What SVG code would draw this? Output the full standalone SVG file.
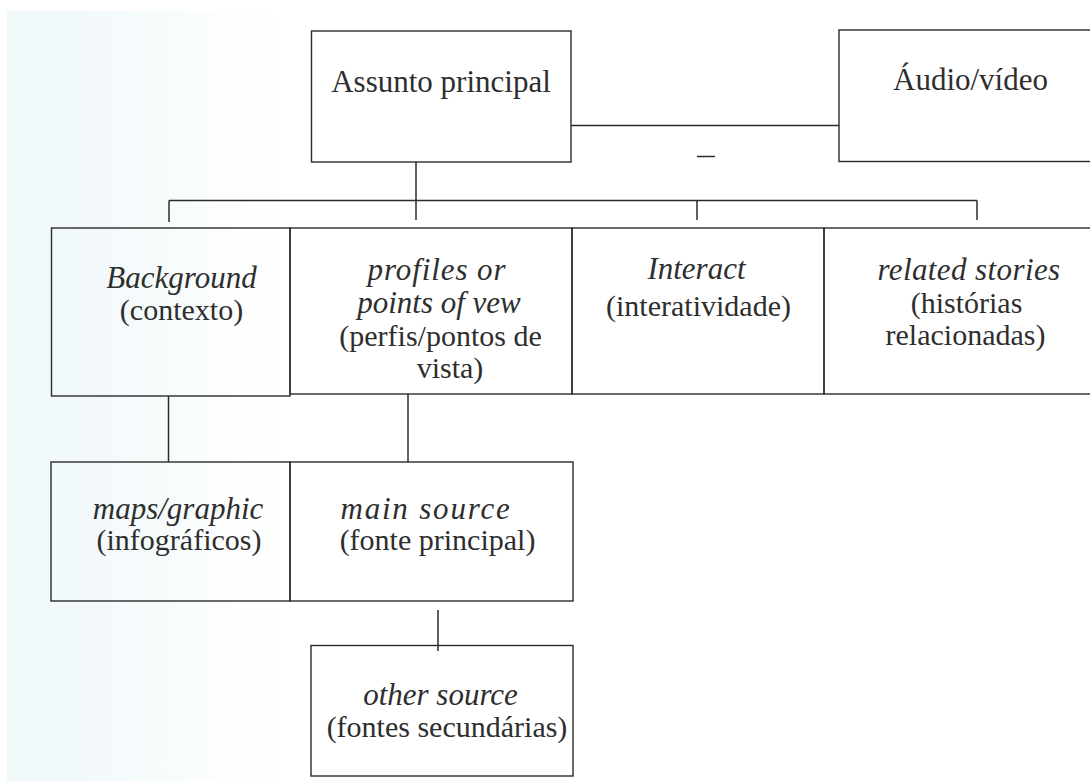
<svg xmlns="http://www.w3.org/2000/svg" width="1090" height="781" viewBox="0 0 1090 781">
  <defs>
    <linearGradient id="tint" x1="0" y1="0" x2="1" y2="0">
      <stop offset="0" stop-color="#f0f8fa"/>
      <stop offset="0.5" stop-color="#f6fbfc"/>
      <stop offset="1" stop-color="#ffffff" stop-opacity="0"/>
    </linearGradient>
    <style>
      .box { fill: none; stroke: #2b2b2b; stroke-width: 1.4; }
      .ln { fill: none; stroke: #2b2b2b; stroke-width: 1.5; }
      .t { font-family: "Liberation Serif", "Times New Roman", serif; font-size: 30px; fill: #2e2e2e; text-anchor: middle; }
      .h { font-size: 31px; }
      .i { font-style: italic; font-size: 31px; }
    </style>
  </defs>
  <rect x="0" y="0" width="1090" height="781" fill="#ffffff"/>
  <rect x="7" y="11" width="300" height="770" fill="url(#tint)"/>

  <g id="connectors">
    <line class="ln" x1="571" y1="125.5" x2="839" y2="125.5"/>
    <line class="ln" x1="416" y1="162" x2="416" y2="220"/>
    <line class="ln" x1="169" y1="200.5" x2="977" y2="200.5"/>
    <line class="ln" x1="169" y1="200.5" x2="169" y2="222"/>
    <line class="ln" x1="697" y1="200.5" x2="697" y2="220"/>
    <line class="ln" x1="977" y1="200.5" x2="977" y2="220"/>
    <line class="ln" x1="168.5" y1="396" x2="168.5" y2="462"/>
    <line class="ln" x1="408" y1="394" x2="408" y2="462"/>
    <line class="ln" x1="438" y1="610" x2="438" y2="651"/>
    <line class="ln" x1="697" y1="156.5" x2="715" y2="156.5"/>
  </g>

  <g id="assunto">
    <rect class="box" x="311.5" y="31" width="259.5" height="131"/>
    <text class="t h" x="441" y="92">Assunto principal</text>
  </g>
  <g id="audio">
    <rect class="box" x="839" y="30" width="260" height="131.5"/>
    <text class="t h" x="970.5" y="90">Áudio/vídeo</text>
  </g>

  <g id="background">
    <rect class="box" x="51.5" y="228" width="238.5" height="168"/>
    <text class="t i" x="181.5" y="288">Background</text>
    <text class="t" x="181.5" y="320">(contexto)</text>
  </g>
  <g id="profiles">
    <rect class="box" x="290" y="228" width="282" height="166"/>
    <text class="t i" x="437" y="280" letter-spacing="0.9">profiles or</text>
    <text class="t i" x="439" y="313">points of vew</text>
    <text class="t" x="440.5" y="346">(perfis/pontos de</text>
    <text class="t" x="450" y="378">vista)</text>
  </g>
  <g id="interact">
    <rect class="box" x="572" y="228" width="252" height="166"/>
    <text class="t i" x="696.5" y="279">Interact</text>
    <text class="t" x="698.5" y="316">(interatividade)</text>
  </g>
  <g id="related">
    <rect class="box" x="824" y="228" width="275" height="166"/>
    <text class="t i" x="969" y="280" letter-spacing="0.4">related stories</text>
    <text class="t" x="966.5" y="313">(histórias</text>
    <text class="t" x="965.5" y="345">relacionadas)</text>
  </g>

  <g id="maps">
    <rect class="box" x="51" y="462" width="239" height="139"/>
    <text class="t i" x="178" y="519">maps/graphic</text>
    <text class="t" x="179" y="550">(infográficos)</text>
  </g>
  <g id="mainsource">
    <rect class="box" x="290" y="462" width="283" height="139"/>
    <text class="t i" x="426" y="519" letter-spacing="1.8">main source</text>
    <text class="t" x="437.5" y="550">(fonte principal)</text>
  </g>

  <g id="othersource">
    <rect class="box" x="311" y="645.5" width="262" height="130.5"/>
    <text class="t i" x="440.5" y="705">other source</text>
    <text class="t" x="447" y="737">(fontes secundárias)</text>
  </g>
</svg>
